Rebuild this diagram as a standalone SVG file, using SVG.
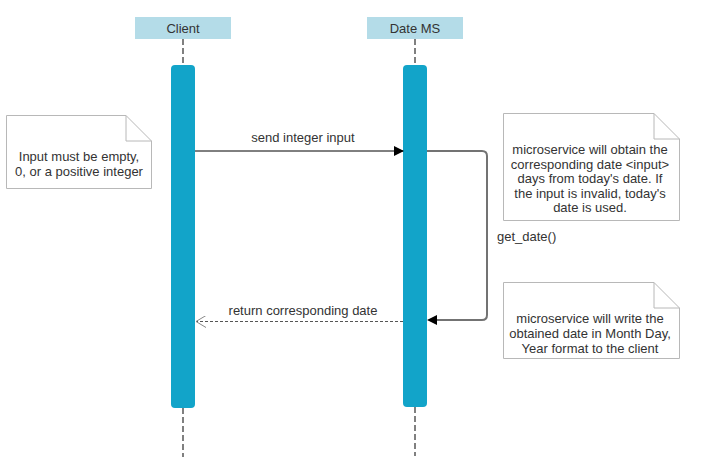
<svg xmlns="http://www.w3.org/2000/svg" width="702" height="474" viewBox="0 0 702 474">
<style>
text{font-family:"Liberation Sans",Arial,sans-serif;font-size:13px;fill:#333333}
.hdr{fill:#b4dce8;stroke:none}
.life{stroke:#808080;stroke-width:2;stroke-dasharray:6,3;fill:none}
.bar{fill:#12a4c9;stroke:none}
.note{fill:#ffffff;stroke:#b8b8b8;stroke-width:1}
.fold{fill:none;stroke:#b8b8b8;stroke-width:1}
.msg{stroke:#000;stroke-width:1;fill:none}
.self{stroke:#000;stroke-width:2;fill:none;stroke-opacity:0.55}
.ret{stroke:#555;stroke-width:1;stroke-dasharray:3,2;fill:none}
</style>
<defs>
<marker id="fill" markerWidth="10" markerHeight="10" refX="9" refY="5" orient="auto" markerUnits="userSpaceOnUse">
<path d="M0,0 L10,5 L0,10 Z" fill="#000"/>
</marker>
<marker id="open" markerWidth="12" markerHeight="12" refX="10" refY="6" orient="auto" markerUnits="userSpaceOnUse">
<path d="M0,0 L10,6 L0,12" fill="none" stroke="#888" stroke-width="1"/>
</marker>
</defs>
<g id="client">
<rect class="hdr" x="135" y="17" width="96" height="22"/>
<text x="183" y="33" text-anchor="middle" font-size="14">Client</text>
<line class="life" x1="183" y1="39" x2="183" y2="65"/>
<line class="life" x1="183" y1="408" x2="183" y2="457"/>
<rect class="bar" x="171" y="65" width="24" height="343" rx="4"/>
</g>
<g id="datems">
<rect class="hdr" x="367" y="17" width="96" height="22"/>
<text x="415" y="33" text-anchor="middle" font-size="14">Date MS</text>
<line class="life" x1="415" y1="39" x2="415" y2="65"/>
<line class="life" x1="415" y1="407" x2="415" y2="456"/>
<rect class="bar" x="403" y="65" width="24" height="342" rx="4"/>
</g>
<g id="note1">
<path class="note" d="M6.5,115.5 H126 L151.5,141 V188.5 H6.5 Z"/>
<path class="fold" d="M126,115.5 V141 H151.5"/>
<text x="79" y="161" text-anchor="middle">Input must be empty,</text>
<text x="79" y="176" text-anchor="middle">0, or a positive integer</text>
</g>
<g id="note2">
<path class="note" d="M503.5,113.5 H654 L679.5,139 V220.5 H503.5 Z"/>
<path class="fold" d="M654,113.5 V139 H679.5"/>
<text x="590" y="154" text-anchor="middle">microservice will obtain the</text>
<text x="590" y="169" text-anchor="middle">corresponding date &lt;input&gt;</text>
<text x="590" y="183" text-anchor="middle">days from today's date. If</text>
<text x="590" y="198" text-anchor="middle">the input is invalid, today's</text>
<text x="590" y="212" text-anchor="middle">date is used.</text>
</g>
<g id="note3">
<path class="note" d="M503.5,282.5 H654 L679.5,308 V358.5 H503.5 Z"/>
<path class="fold" d="M654,282.5 V308 H679.5"/>
<text x="590" y="323" text-anchor="middle">microservice will write the</text>
<text x="590" y="338" text-anchor="middle">obtained date in Month Day,</text>
<text x="590" y="353" text-anchor="middle">Year format to the client</text>
</g>
<g id="connectors">
<line class="msg" x1="195" y1="151" x2="403" y2="151" marker-end="url(#fill)"/>
<text x="303" y="142" text-anchor="middle">send integer input</text>
<path class="self" d="M427,151 H482 Q487,151 487,156 V315 Q487,320 482,320 H437"/>
<path d="M427,320 L437,315 L437,325 Z" fill="#000"/>
<text x="497" y="241">get_date()</text>
<line class="ret" x1="403" y1="321.5" x2="196" y2="321.5" marker-end="url(#open)"/>
<text x="303" y="315" text-anchor="middle">return corresponding date</text>
</g>
</svg>
